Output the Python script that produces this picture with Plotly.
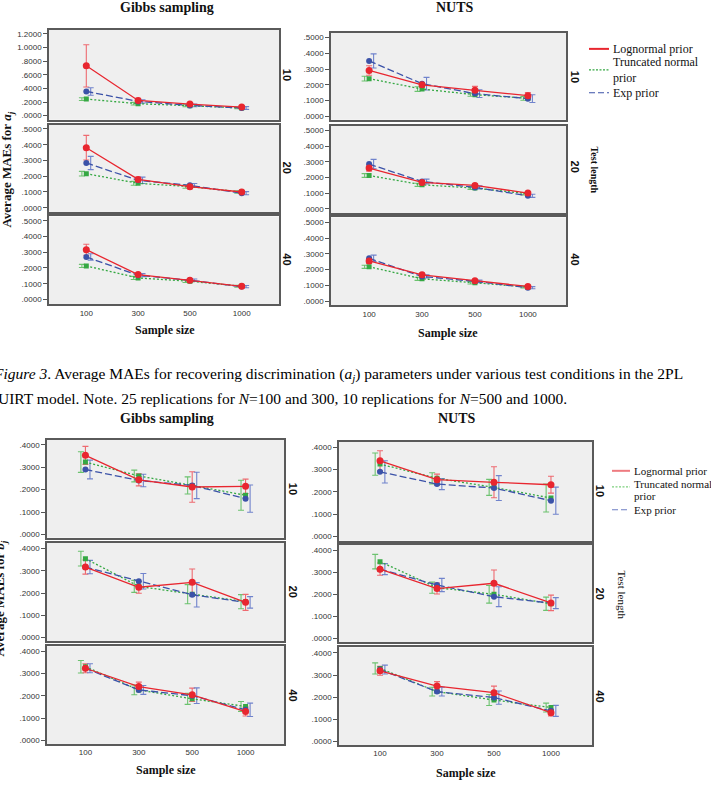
import plotly.graph_objects as go

# ---------------- data ----------------
sample_sizes = ["100", "300", "500", "1000"]
series_names = ["Lognormal prior", "Truncated normal prior", "Exp prior"]

# Figure A: average MAEs for a_j
a_gibbs_10_ln = [0.732, 0.224, 0.171, 0.127]
a_gibbs_10_ln_err = [0.31, 0.03, 0.02, 0.015]
a_gibbs_10_tn = [0.244, 0.176, 0.146, 0.113]
a_gibbs_10_tn_err = [0.02, 0.02, 0.015, 0.012]
a_gibbs_10_ex = [0.356, 0.210, 0.151, 0.113]
a_gibbs_10_ex_err = [0.055, 0.025, 0.02, 0.02]

a_gibbs_20_ln = [0.381, 0.180, 0.134, 0.100]
a_gibbs_20_ln_err = [0.078, 0.015, 0.01, 0.008]
a_gibbs_20_tn = [0.216, 0.155, 0.134, 0.100]
a_gibbs_20_tn_err = [0.015, 0.012, 0.01, 0.008]
a_gibbs_20_ex = [0.284, 0.174, 0.142, 0.092]
a_gibbs_20_ex_err = [0.042, 0.02, 0.012, 0.01]

a_gibbs_40_ln = [0.316, 0.158, 0.122, 0.084]
a_gibbs_40_ln_err = [0.035, 0.01, 0.008, 0.006]
a_gibbs_40_tn = [0.213, 0.137, 0.116, 0.084]
a_gibbs_40_tn_err = [0.01, 0.01, 0.008, 0.006]
a_gibbs_40_ex = [0.270, 0.154, 0.122, 0.082]
a_gibbs_40_ex_err = [0.02, 0.01, 0.008, 0.007]

a_nuts_10_ln = [0.291, 0.200, 0.165, 0.131]
a_nuts_10_ln_err = [0.03, 0.015, 0.025, 0.02]
a_nuts_10_tn = [0.239, 0.173, 0.137, 0.114]
a_nuts_10_tn_err = [0.015, 0.015, 0.01, 0.012]
a_nuts_10_ex = [0.352, 0.207, 0.144, 0.112]
a_nuts_10_ex_err = [0.045, 0.04, 0.025, 0.025]

a_nuts_20_ln = [0.260, 0.168, 0.149, 0.100]
a_nuts_20_ln_err = [0.02, 0.012, 0.01, 0.008]
a_nuts_20_tn = [0.212, 0.153, 0.132, 0.096]
a_nuts_20_tn_err = [0.012, 0.01, 0.008, 0.008]
a_nuts_20_ex = [0.285, 0.174, 0.136, 0.083]
a_nuts_20_ex_err = [0.03, 0.015, 0.01, 0.01]

a_nuts_40_ln = [0.255, 0.167, 0.130, 0.094]
a_nuts_40_ln_err = [0.015, 0.01, 0.008, 0.006]
a_nuts_40_tn = [0.218, 0.142, 0.117, 0.090]
a_nuts_40_tn_err = [0.01, 0.01, 0.008, 0.006]
a_nuts_40_ex = [0.272, 0.157, 0.126, 0.086]
a_nuts_40_ex_err = [0.02, 0.01, 0.008, 0.007]

# Figure B: average MAEs for b_j
b_gibbs_10_ln = [0.353, 0.244, 0.212, 0.215]
b_gibbs_10_ln_err = [0.04, 0.027, 0.068, 0.032]
b_gibbs_10_tn = [0.323, 0.261, 0.219, 0.175]
b_gibbs_10_tn_err = [0.046, 0.026, 0.038, 0.067]
b_gibbs_10_ex = [0.290, 0.241, 0.219, 0.160]
b_gibbs_10_ex_err = [0.042, 0.028, 0.059, 0.061]

b_gibbs_20_ln = [0.317, 0.226, 0.248, 0.158]
b_gibbs_20_ln_err = [0.032, 0.027, 0.06, 0.036]
b_gibbs_20_tn = [0.355, 0.230, 0.195, 0.161]
b_gibbs_20_tn_err = [0.033, 0.027, 0.043, 0.032]
b_gibbs_20_ex = [0.317, 0.253, 0.192, 0.158]
b_gibbs_20_ex_err = [0.03, 0.035, 0.055, 0.026]

b_gibbs_40_ln = [0.323, 0.241, 0.204, 0.129]
b_gibbs_40_ln_err = [0.02, 0.02, 0.03, 0.02]
b_gibbs_40_tn = [0.330, 0.226, 0.186, 0.152]
b_gibbs_40_tn_err = [0.028, 0.022, 0.025, 0.022]
b_gibbs_40_ex = [0.323, 0.226, 0.200, 0.137]
b_gibbs_40_ex_err = [0.02, 0.02, 0.035, 0.03]

b_nuts_10_ln = [0.340, 0.255, 0.243, 0.232]
b_nuts_10_ln_err = [0.045, 0.025, 0.07, 0.038]
b_nuts_10_tn = [0.325, 0.261, 0.220, 0.172]
b_nuts_10_tn_err = [0.05, 0.025, 0.036, 0.063]
b_nuts_10_ex = [0.290, 0.235, 0.217, 0.160]
b_nuts_10_ex_err = [0.05, 0.025, 0.056, 0.061]

b_nuts_20_ln = [0.314, 0.226, 0.250, 0.161]
b_nuts_20_ln_err = [0.028, 0.025, 0.06, 0.035]
b_nuts_20_tn = [0.348, 0.230, 0.200, 0.157]
b_nuts_20_tn_err = [0.033, 0.025, 0.04, 0.03]
b_nuts_20_ex = [0.314, 0.242, 0.189, 0.160]
b_nuts_20_ex_err = [0.025, 0.03, 0.045, 0.025]

b_nuts_40_ln = [0.319, 0.250, 0.220, 0.130]
b_nuts_40_ln_err = [0.02, 0.02, 0.03, 0.015]
b_nuts_40_tn = [0.330, 0.225, 0.187, 0.153]
b_nuts_40_tn_err = [0.025, 0.02, 0.025, 0.02]
b_nuts_40_ex = [0.325, 0.225, 0.198, 0.138]
b_nuts_40_ex_err = [0.02, 0.02, 0.03, 0.025]

ticks_a_big = [0.0, 0.2, 0.4, 0.6, 0.8, 1.0, 1.2]
ticks_a_big_text = [".0000", ".2000", ".4000", ".6000", ".8000", "1.0000", "1.2000"]
ticks_a = [0.0, 0.1, 0.2, 0.3, 0.4, 0.5]
ticks_a_text = [".0000", ".1000", ".2000", ".3000", ".4000", ".5000"]
ticks_b = [0.0, 0.1, 0.2, 0.3, 0.4]
ticks_b_text = [".0000", ".1000", ".2000", ".3000", ".4000"]
test_lengths = ["10", "20", "40"]

# ---------------- layout helpers ----------------
W, H = 711, 804


def px(x):
    return x / W


def py(y):
    return 1 - y / H


# panel boxes (left, right, top, bottom) in pixels
panels = [
    # figure A, Gibbs
    (49, 279, 30, 120, [-0.059, 1.259], ticks_a_big, ticks_a_big_text,
     (a_gibbs_10_ln, a_gibbs_10_tn, a_gibbs_10_ex), (a_gibbs_10_ln_err, a_gibbs_10_tn_err, a_gibbs_10_ex_err), False),
    (49, 279, 125, 213, [-0.03, 0.527], ticks_a, ticks_a_text,
     (a_gibbs_20_ln, a_gibbs_20_tn, a_gibbs_20_ex), (a_gibbs_20_ln_err, a_gibbs_20_tn_err, a_gibbs_20_ex_err), False),
    (49, 279, 217, 305, [-0.03, 0.527], ticks_a, ticks_a_text,
     (a_gibbs_40_ln, a_gibbs_40_tn, a_gibbs_40_ex), (a_gibbs_40_ln_err, a_gibbs_40_tn_err, a_gibbs_40_ex_err), True),
    # figure A, NUTS
    (331, 566, 33, 120, [-0.022, 0.53], ticks_a, ticks_a_text,
     (a_nuts_10_ln, a_nuts_10_tn, a_nuts_10_ex), (a_nuts_10_ln_err, a_nuts_10_tn_err, a_nuts_10_ex_err), False),
    (331, 566, 126, 214, [-0.03, 0.53], ticks_a, ticks_a_text,
     (a_nuts_20_ln, a_nuts_20_tn, a_nuts_20_ex), (a_nuts_20_ln_err, a_nuts_20_tn_err, a_nuts_20_ex_err), False),
    (331, 566, 218, 306, [-0.025, 0.53], ticks_a, ticks_a_text,
     (a_nuts_40_ln, a_nuts_40_tn, a_nuts_40_ex), (a_nuts_40_ln_err, a_nuts_40_tn_err, a_nuts_40_ex_err), True),
    # figure B, Gibbs
    (47, 284, 441, 539, [-0.014, 0.422], ticks_b, ticks_b_text,
     (b_gibbs_10_ln, b_gibbs_10_tn, b_gibbs_10_ex), (b_gibbs_10_ln_err, b_gibbs_10_tn_err, b_gibbs_10_ex_err), False),
    (47, 284, 544, 643, [-0.018, 0.427], ticks_b, ticks_b_text,
     (b_gibbs_20_ln, b_gibbs_20_tn, b_gibbs_20_ex), (b_gibbs_20_ln_err, b_gibbs_20_tn_err, b_gibbs_20_ex_err), False),
    (47, 284, 648, 746, [-0.017, 0.421], ticks_b, ticks_b_text,
     (b_gibbs_40_ln, b_gibbs_40_tn, b_gibbs_40_ex), (b_gibbs_40_ln_err, b_gibbs_40_tn_err, b_gibbs_40_ex_err), True),
    # figure B, NUTS
    (339, 592, 443, 542, [-0.02, 0.425], ticks_b, ticks_b_text,
     (b_nuts_10_ln, b_nuts_10_tn, b_nuts_10_ex), (b_nuts_10_ln_err, b_nuts_10_tn_err, b_nuts_10_ex_err), False),
    (339, 592, 546, 644, [-0.018, 0.425], ticks_b, ticks_b_text,
     (b_nuts_20_ln, b_nuts_20_tn, b_nuts_20_ex), (b_nuts_20_ln_err, b_nuts_20_tn_err, b_nuts_20_ex_err), False),
    (339, 592, 649, 747, [-0.017, 0.425], ticks_b, ticks_b_text,
     (b_nuts_40_ln, b_nuts_40_tn, b_nuts_40_ex), (b_nuts_40_ln_err, b_nuts_40_tn_err, b_nuts_40_ex_err), True),
]

line_colors = ["#e8262f", "#35a843", "#3b52a8"]
err_colors = ["#ee6a70", "#6cc26f", "#7083cc"]
dashes = ["solid", "2px,2px", "7px,3px"]
symbols = ["circle", "square", "circle"]
sizes = [7, 5, 6]
dodge = [0.0, -0.085, 0.085]

fig = go.Figure()
layout = {}
x_idx = list(range(len(sample_sizes)))
tickfont = dict(family="Arial, Liberation Sans", size=8, color="#333")

for i, (l, r, t, b, yr, tv, tt, vals, errs, bottom) in enumerate(panels):
    n = i + 1
    xa = "x" if n == 1 else f"x{n}"
    ya = "y" if n == 1 else f"y{n}"
    layout["xaxis" if n == 1 else f"xaxis{n}"] = dict(
        domain=[px(l), px(r)], anchor=ya, range=[-0.72, 3.72],
        tickvals=x_idx, ticktext=sample_sizes, showticklabels=bottom,
        ticks="", showgrid=False, zeroline=False,
        showline=True, mirror=True, linecolor="#5a5a5a", linewidth=1.5,
        tickfont=tickfont,
    )
    layout["yaxis" if n == 1 else f"yaxis{n}"] = dict(
        domain=[py(b), py(t)], anchor=xa, range=yr,
        tickvals=tv, ticktext=tt, ticks="outside", ticklen=4, tickcolor="#555",
        showgrid=False, zeroline=False,
        showline=True, mirror=True, linecolor="#5a5a5a", linewidth=1.5,
        tickfont=tickfont,
    )
    # error bars (dodged)
    for s in (1, 0, 2):
        fig.add_trace(go.Scatter(
            x=[xi + dodge[s] for xi in x_idx], y=vals[s], xaxis=xa, yaxis=ya,
            mode="markers", marker=dict(size=1, color="rgba(0,0,0,0)"),
            error_y=dict(type="data", array=errs[s], color=err_colors[s], thickness=1.1, width=3),
            showlegend=False, hoverinfo="skip"))
    # lines + markers
    for s in (1, 2, 0):
        fig.add_trace(go.Scatter(
            x=x_idx, y=vals[s], xaxis=xa, yaxis=ya, mode="lines+markers",
            line=dict(color=line_colors[s], width=1.3, dash=dashes[s]),
            marker=dict(symbol=symbols[s], size=sizes[s], color=line_colors[s]),
            name=series_names[s], showlegend=False))

serif = "Liberation Serif, Times New Roman, serif"
sans = "Arial, Liberation Sans"
ann = []


def text(x, y, s, size, bold=False, angle=0, family=serif, color="#111", xanchor="center", yanchor="middle"):
    ann.append(dict(x=px(x), y=py(y), xref="paper", yref="paper", text=f"<b>{s}</b>" if bold else s,
                    showarrow=False, textangle=angle, xanchor=xanchor, yanchor=yanchor,
                    font=dict(family=family, size=size, color=color)))


# titles
text(167, 8, "Gibbs sampling", 14, bold=True)
text(455, 8, "NUTS", 14, bold=True)
text(167, 420, "Gibbs sampling", 14, bold=True)
text(457, 420, "NUTS", 14, bold=True)

# sample size labels
text(165, 331, "Sample size", 12, bold=True)
text(448, 334, "Sample size", 12, bold=True)
text(166, 772, "Sample size", 12, bold=True)
text(466, 775, "Sample size", 12, bold=True)

# row labels
for lab, yy in zip(test_lengths, [75, 168, 260]):
    text(287, yy, lab, 11, bold=True, angle=90, family=sans)
for lab, yy in zip(test_lengths, [77, 167, 260]):
    text(575, yy, lab, 11, bold=True, angle=90, family=sans)
for lab, yy in zip(test_lengths, [490, 593, 697]):
    text(293, yy, lab, 11, bold=True, angle=90, family=sans)
for lab, yy in zip(test_lengths, [492, 595, 698]):
    text(600, yy, lab, 11, bold=True, angle=90, family=sans)

text(594, 170, "Test length", 10, bold=True, angle=90)
text(622, 596, "Test length", 11, angle=90)

# y axis titles
text(8, 170, "Average MAEs for <i>a<sub>j</sub></i>", 13, bold=True, angle=-90)
text(1, 600, "Average MAEs for <i>b<sub>j</sub></i>", 13, bold=True, angle=-90)

# caption
text(-9, 375, "<i>Figure 3</i>. Average MAEs for recovering discrimination (<i>a<sub>j</sub></i>) parameters under various test conditions in the 2PL",
     15.5, xanchor="left", color="#000")
text(-4, 399, "UIRT model. Note. 25 replications for <i>N</i>=100 and 300, 10 replications for <i>N</i>=500 and 1000.",
     15.5, xanchor="left", color="#000")

# legends (manual)
shapes = []
legend_dashes = ["solid", "2px,1.5px", "6px,3px"]


def legend(x0, lw, fs, ys, line_ys, colors):
    labels = ["Lognormal prior", "Truncated normal", "prior", "Exp prior"]
    for k in range(3):
        ly = line_ys[k]
        shapes.append(dict(type="line", xref="paper", yref="paper",
                           x0=px(x0), x1=px(x0 + lw), y0=py(ly), y1=py(ly),
                           line=dict(color=colors[k], width=2 if k == 0 else 1.2, dash=legend_dashes[k])))
    for lab, yy in zip(labels, ys):
        text(x0 + lw + 2, yy, lab, fs, xanchor="left", color="#111")


legend(589, 20, 12, [49, 62, 78, 93], [49, 70, 93], line_colors)
legend(612, 18, 11, [472, 485, 497, 511], [472, 488, 511], ["#ee7b80", "#7ccf7c", "#6d7fc4"])

layout.update(dict(
    width=W, height=H, margin=dict(l=0, r=0, t=0, b=0),
    paper_bgcolor="white", plot_bgcolor="#efefef",
    annotations=ann, shapes=shapes, showlegend=False,
))
fig.update_layout(**layout)
fig.write_html("out.html")
